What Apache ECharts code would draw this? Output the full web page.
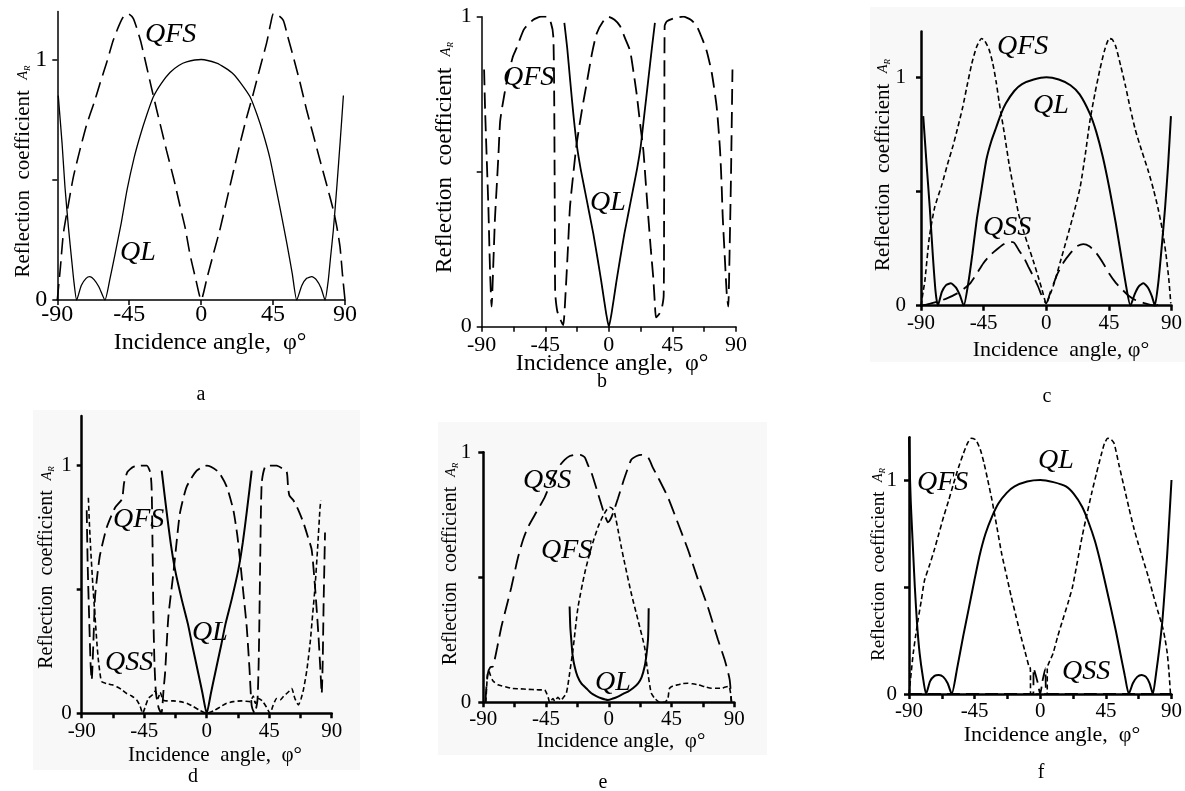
<!DOCTYPE html>
<html>
<head>
<meta charset="utf-8">
<title>Reflection coefficient vs incidence angle</title>
<style>html,body{margin:0;background:#fff}#main{width:1185px;height:791px}</style>
</head>
<body>
<div id="main"></div>
<script src="https://cdn.jsdelivr.net/npm/echarts@6/dist/echarts.min.js"></script>
<script>
// tick labels
var xLabels = [-90, -45, 0, 45, 90];
var yLabels = [0, 1];
var yTicks = [0, 0.5, 1];

// panel a
var aQL = [[-89.4,0.85],[-87,0.65],[-85.2,0.47],[-83,0.3],[-81,0.166],[-79.5,0.07],[-77.9,0],[-75,0.06],[-72,0.09],[-69.6,0.097],[-67,0.085],[-64,0.055],[-60.2,0],[-57,0.09],[-53.9,0.19],[-50,0.32],[-46.3,0.46],[-42,0.59],[-38.3,0.68],[-34,0.77],[-29.9,0.845],[-25,0.9],[-19.5,0.946],[-14,0.975],[-9.1,0.99],[0,1],[9.7,0.985],[15,0.965],[20.1,0.94],[25,0.9],[30.6,0.845],[35,0.77],[38.9,0.69],[43,0.59],[46.7,0.47],[50,0.36],[53.5,0.24],[57,0.11],[59.8,0],[63,0.06],[66,0.09],[69.2,0.097],[72,0.085],[75,0.05],[77.5,0],[79.5,0.08],[81,0.18],[82.7,0.29],[85,0.48],[87,0.66],[89,0.85]];
var aQFS = [[-90,0],[-88,0.14],[-86.2,0.277],[-83,0.4],[-80,0.51],[-76,0.62],[-71.6,0.73],[-67,0.82],[-63.3,0.9],[-59,0.99],[-55,1.08],[-51.5,1.14],[-48.7,1.177],[-45.6,1.19],[-42.4,1.17],[-38,1.08],[-34.1,0.97],[-31,0.88],[-27.8,0.79],[-24.5,0.7],[-21.6,0.62],[-17,0.5],[-13.2,0.39],[-10,0.3],[-7,0.19],[-3.5,0.09],[0,0],[3.8,0.095],[7.6,0.19],[12,0.3],[16,0.415],[20,0.53],[24.3,0.65],[28.5,0.76],[32.7,0.86],[37,0.97],[41,1.07],[43.5,1.15],[45.2,1.19],[48,1.185],[51.4,1.163],[54,1.1],[57.7,1.01],[62,0.9],[66,0.79],[70,0.69],[74.4,0.58],[78.5,0.48],[82.7,0.374],[85,0.3],[86.9,0.22],[88.5,0.1],[90,0]];

// panel b
var bQL = [[-31.5,0.98],[-29.5,0.9],[-27.5,0.8],[-25,0.68],[-22.5,0.58],[-20,0.51],[-17,0.44],[-14,0.37],[-11,0.3],[-8,0.22],[-5.5,0.15],[-3.5,0.09],[-1.8,0.04],[0,0],[1.8,0.04],[3.5,0.09],[5.5,0.15],[8,0.22],[11,0.3],[14,0.37],[17,0.44],[20,0.51],[22.5,0.58],[25,0.68],[28,0.8],[30.5,0.9],[32.6,0.98]];
var bQFS = [[-88.3,0.83],[-87.6,0.7],[-86.5,0.55],[-85.3,0.39],[-84.1,0.18],[-83,0.065],[-81.8,0.2],[-80.6,0.35],[-79.4,0.45],[-78.2,0.55],[-77,0.66],[-75.8,0.7],[-72.3,0.79],[-68,0.87],[-65.2,0.9],[-60,0.96],[-53.5,0.99],[-48,1],[-44,1],[-41,0.98],[-39.3,0.935],[-38.7,0.75],[-38.4,0.5],[-38.2,0.3],[-38,0.11],[-36.5,0.05],[-34,0.02],[-32.3,0.005],[-30.5,0.12],[-29,0.25],[-27.5,0.387],[-25,0.5],[-22.8,0.59],[-19,0.7],[-15.7,0.785],[-12,0.88],[-8.6,0.946],[-4,0.985],[-0.4,1],[4,0.99],[7.9,0.97],[11.5,0.93],[15,0.89],[17.5,0.82],[19.7,0.75],[22,0.66],[24.4,0.57],[26.2,0.46],[27.9,0.355],[29.7,0.25],[31.4,0.16],[32.5,0.08],[33.4,0.03],[35.5,0.04],[37.5,0.06],[38.8,0.1],[39.1,0.35],[39.3,0.7],[39.5,0.97],[41,0.985],[46,0.995],[52.7,1],[58,0.99],[62.2,0.97],[66,0.93],[69.2,0.89],[72.8,0.82],[76.3,0.71],[78.7,0.57],[79.8,0.46],[80.6,0.355],[82,0.23],[83.4,0.11],[84.5,0.065],[85.5,0.25],[86.5,0.5],[87.5,0.83]];

// panel c
var cQL = [[-88.4,0.83],[-86,0.62],[-83.7,0.43],[-81.5,0.22],[-79.5,0.06],[-77.9,0],[-75,0.06],[-72,0.09],[-68.6,0.098],[-65,0.08],[-62,0.045],[-59.3,0],[-56,0.1],[-53,0.23],[-50,0.375],[-46.5,0.51],[-43,0.64],[-39.5,0.72],[-36,0.78],[-32.5,0.84],[-29,0.886],[-23,0.94],[-17.4,0.97],[-9,0.99],[0,1],[9,0.99],[17.4,0.965],[24,0.925],[31.4,0.84],[36,0.76],[40.7,0.65],[45.5,0.51],[50,0.36],[53.5,0.23],[57,0.1],[60.5,0],[63.5,0.05],[66.5,0.085],[69.8,0.098],[73,0.08],[76,0.04],[78,0],[80.5,0.1],[83,0.26],[85.4,0.43],[87.6,0.62],[89.6,0.83]];
var cQFS = [[-90,0],[-88.5,0.06],[-87.2,0.11],[-84,0.3],[-80.2,0.43],[-75,0.53],[-70.9,0.62],[-67,0.7],[-64,0.77],[-60,0.87],[-57,0.96],[-53.5,1.06],[-50,1.134],[-46.5,1.17],[-44.2,1.16],[-41,1.12],[-38.4,1.06],[-36,0.98],[-33.7,0.886],[-30,0.75],[-26.7,0.62],[-23,0.5],[-19.8,0.4],[-16,0.32],[-12.8,0.26],[-9,0.19],[-5.8,0.127],[-3,0.07],[0,0.01],[2.8,0.05],[5.8,0.1],[10,0.19],[15.1,0.3],[20,0.41],[24.4,0.52],[28,0.66],[31.4,0.81],[35,0.93],[38.4,1.03],[42,1.12],[45.3,1.17],[47.5,1.165],[50,1.134],[53.5,1.05],[57,0.96],[60.5,0.86],[64,0.77],[68.5,0.68],[73.3,0.59],[77,0.51],[80.2,0.43],[83.5,0.33],[86,0.226],[88,0.12],[89.5,0.01]];
var cQSS = [[-90,0],[-84,0.008],[-77.9,0.018],[-71,0.033],[-64,0.054],[-59,0.075],[-54.7,0.098],[-50,0.14],[-45.3,0.185],[-40.5,0.22],[-36,0.244],[-31,0.268],[-26.7,0.28],[-23,0.275],[-19.8,0.244],[-16,0.21],[-12.8,0.17],[-9,0.125],[-5.8,0.083],[-3,0.04],[0,0.01],[3,0.06],[5.5,0.1],[8.1,0.14],[12.5,0.19],[17.4,0.23],[22,0.26],[26.7,0.27],[31,0.26],[36,0.23],[41,0.185],[45.3,0.14],[50,0.1],[54.7,0.07],[59,0.045],[64,0.025],[71,0.01],[78,0],[81,0.005]];

// panel d
var dQL = [[-32.4,0.98],[-29,0.82],[-26,0.69],[-22.8,0.58],[-18,0.46],[-13.5,0.36],[-10.6,0.28],[-6,0.16],[-3,0.08],[0,0],[3,0.08],[6,0.16],[10.6,0.28],[13.5,0.36],[18,0.46],[22.8,0.58],[26,0.69],[29,0.82],[32.4,0.98]];
var dQFS = [[-86.4,0.82],[-85.7,0.6],[-84.6,0.38],[-83.6,0.2],[-82.8,0.135],[-81.5,0.3],[-80.4,0.47],[-78.5,0.57],[-76.8,0.64],[-72,0.75],[-66,0.83],[-61,0.865],[-59.5,0.93],[-57,0.975],[-52.8,0.995],[-47,1],[-43.2,1],[-40.5,0.97],[-39.6,0.9],[-39,0.68],[-38.4,0.4],[-37.6,0.2],[-36.5,0.08],[-34.5,0.02],[-32.6,0],[-31,0.1],[-30,0.16],[-27.6,0.39],[-24,0.565],[-21.5,0.7],[-19.2,0.81],[-14.4,0.915],[-7.2,0.98],[0,1],[8.4,0.975],[14.4,0.915],[19.2,0.82],[22,0.72],[24,0.62],[26.5,0.48],[28.8,0.35],[30.8,0.18],[32.4,0.03],[34.5,0],[36.5,0.05],[37.4,0.2],[38,0.4],[38.6,0.65],[39.6,0.93],[42,0.995],[46,1],[50.4,1],[54,0.99],[57.6,0.975],[58.5,0.92],[59.5,0.88],[62.4,0.86],[66,0.82],[69.6,0.77],[73,0.71],[75.6,0.66],[78,0.51],[80.4,0.32],[82,0.16],[82.8,0.08],[83.5,0.2],[84.2,0.45],[85.2,0.73]];
var dQSS = [[-85.2,0.87],[-84.4,0.76],[-83.5,0.66],[-82,0.52],[-80.4,0.39],[-79,0.28],[-78,0.215],[-76.8,0.16],[-75.6,0.128],[-72,0.12],[-68,0.115],[-64.8,0.107],[-61,0.095],[-57.6,0.08],[-54,0.07],[-50.4,0.054],[-48,0.03],[-46.1,0],[-44,0.03],[-42,0.06],[-39,0.075],[-37,0.09],[-35,0.06],[-33.5,0.085],[-31.5,0.055],[-28.8,0.05],[-24,0.05],[-19.2,0.047],[-14,0.04],[-9.6,0.027],[-5,0.012],[0,0],[5,0.01],[9.6,0.025],[14,0.04],[19.1,0.047],[25,0.05],[31.2,0.047],[33.5,0.07],[35,0.04],[37,0.06],[40,0.05],[43,0.025],[45.6,0],[48,0.035],[50.4,0.06],[53,0.055],[55.5,0.07],[57.6,0.08],[59.5,0.09],[61.2,0.1],[63.5,0.06],[66,0.034],[68,0.06],[69.6,0.094],[72,0.17],[74.4,0.28],[76.3,0.4],[78,0.51],[80,0.68],[81.6,0.83],[82.2,0.86]];

// panel e
var eQL = [[-28.1,0.383],[-27.6,0.3],[-26.9,0.25],[-26,0.19],[-24.5,0.143],[-22.5,0.105],[-19.7,0.076],[-16,0.055],[-12.5,0.036],[-9,0.025],[-5.4,0.016],[-2.5,0.011],[-0.6,0.009],[2.5,0.014],[6.6,0.023],[10,0.033],[13.8,0.043],[17.5,0.057],[21,0.076],[23.5,0.1],[25.7,0.143],[27,0.19],[28.1,0.25],[28.4,0.3],[28.6,0.376]];
var eQFS = [[-88.2,0],[-87.6,0.06],[-87,0.11],[-86,0.125],[-85,0.11],[-83,0.085],[-79.5,0.07],[-74,0.062],[-69.9,0.056],[-64,0.054],[-58,0.052],[-52,0.05],[-46,0.049],[-44.5,0.035],[-43.6,0.023],[-42.4,0],[-40,0.015],[-38.8,0.005],[-36.5,0.02],[-34.5,0.008],[-32.5,0.02],[-30.5,0.036],[-29.3,0.07],[-28.1,0.116],[-25.7,0.21],[-22.1,0.38],[-17.3,0.516],[-12.5,0.62],[-7.8,0.7],[-4.2,0.745],[-1.5,0.77],[0.6,0.78],[2.5,0.775],[4.2,0.756],[6.6,0.69],[9,0.62],[11.4,0.556],[16.1,0.436],[20.9,0.33],[25.7,0.22],[27,0.16],[28.1,0.116],[29.3,0.07],[30.5,0.036],[32.9,0.016],[36.5,0],[40,0],[42.4,0.016],[43,0.04],[43.6,0.056],[46,0.065],[49.6,0.07],[53,0.075],[56.8,0.076],[60,0.074],[64,0.07],[69,0.062],[73.5,0.056],[77,0.056],[80.7,0.056],[83,0.06],[85.5,0.063],[86.5,0.06],[87.5,0.03],[88,0]];
var eQSS = [[-88.5,0],[-87.8,0.06],[-86.7,0.116],[-85,0.14],[-83.1,0.143],[-80,0.22],[-77.1,0.3],[-73.5,0.38],[-69.9,0.46],[-65.1,0.58],[-61.5,0.65],[-58,0.7],[-52,0.76],[-46,0.82],[-40,0.9],[-35.5,0.945],[-31.7,0.97],[-28,0.985],[-24.5,0.99],[-20.5,0.99],[-17.3,0.98],[-15,0.95],[-12.5,0.92],[-7.8,0.836],[-4.2,0.77],[-2,0.735],[-0.6,0.72],[1,0.73],[3,0.756],[6.6,0.816],[11.4,0.9],[16.1,0.97],[20,0.985],[23.3,0.99],[28.1,0.98],[31.5,0.94],[35.3,0.9],[42.4,0.82],[49.6,0.716],[56.8,0.61],[64,0.49],[71.1,0.38],[78.3,0.25],[83.1,0.17],[86.7,0.09],[87.9,0]];

// panel f
var fQL = [[-90,1.2],[-89.5,1.05],[-88.8,0.9],[-88.2,0.81],[-87,0.64],[-86,0.5],[-84.5,0.33],[-82.7,0.19],[-80.5,0.08],[-78.3,0],[-75.5,0.06],[-72.5,0.085],[-69.5,0.089],[-66.5,0.08],[-63.5,0.05],[-60.7,0],[-57,0.12],[-52.9,0.268],[-49,0.4],[-45.2,0.53],[-41.5,0.65],[-37.5,0.75],[-33,0.83],[-28.7,0.89],[-23,0.94],[-17.6,0.97],[-9,0.993],[0,1],[9,0.99],[17.6,0.97],[23,0.935],[28.7,0.875],[33,0.805],[37.5,0.715],[41.5,0.61],[45.2,0.5],[48.5,0.4],[52,0.29],[55.2,0.18],[58,0.085],[60.7,0],[63.5,0.05],[66.5,0.08],[69.5,0.089],[72.5,0.08],[75,0.05],[77.2,0],[79.5,0.1],[81.8,0.22],[83.8,0.346],[85.5,0.5],[87.1,0.657],[88.5,0.82],[90,1]];
var fQFS = [[-90,0],[-88.5,0.1],[-87.1,0.19],[-85.5,0.27],[-83.8,0.346],[-81.5,0.44],[-79.4,0.53],[-76,0.6],[-72.8,0.67],[-69.5,0.75],[-66.2,0.83],[-63,0.9],[-59.6,0.98],[-56,1.06],[-52.9,1.12],[-50,1.17],[-47.4,1.195],[-44.1,1.187],[-41,1.14],[-38.6,1.08],[-36,1],[-33.1,0.906],[-30,0.79],[-26.5,0.657],[-23,0.55],[-19.9,0.455],[-16.5,0.36],[-13.2,0.268],[-10.5,0.2],[-7.7,0.128],[-6.8,0.12],[-6.6,0],[4.8,0],[4.8,0.12],[8.8,0.19],[12,0.27],[15.4,0.346],[18.8,0.42],[22.1,0.5],[25.5,0.62],[28.7,0.735],[32,0.84],[35.3,0.94],[38.5,1.03],[41.9,1.12],[44,1.17],[46.3,1.195],[48.5,1.19],[50.7,1.17],[54,1.07],[57.4,0.97],[60.8,0.87],[64,0.78],[67.3,0.7],[70.6,0.626],[74,0.55],[77.2,0.47],[80.5,0.39],[83.8,0.315],[85.5,0.26],[87.1,0.19],[88.3,0.1],[89.3,0]];
var fQSS = [[-90,0],[-4.8,0],[-4.5,0.12],[-2,0.06],[0,0],[1.5,0.06],[3.5,0.12],[4.2,0],[90,0]];

var LONG = [16, 7];
var MID = [13, 6];
var SHORT = [5, 3];
var FONT = '"Liberation Serif", "Times New Roman", serif';

var panels = [
  {grid: {left: 57.3, top: 11.4, width: 287.7, height: 288.6}, ymax: 1.2, step: 45, axisW: 1.5, tickFs: 24, xMargin: 3, yMargin: 10,
   lines: [[aQL, 'solid', 1.3], [aQFS, LONG, 1.6]],
   labels: [['QFS', 145, 34.5], ['QL', 120, 253]],
   xTitle: ['Incidence angle,  φ°', 210, 343, 24], yTitle: [23, 171.5, 21], cap: ['a', 201, 395]},
  {grid: {left: 481.7, top: 16.7, width: 254.3, height: 310}, ymax: 1, step: 22.5, axisW: 1.5, tickFs: 22, xMargin: 8, yMargin: 10,
   lines: [[bQL, 'solid', 1.8], [bQFS, LONG, 1.8]],
   labels: [['QFS', 503, 78], ['QL', 590, 203]],
   xTitle: ['Incidence angle,  φ°', 612, 364, 24], yTitle: [445, 157.5, 23], cap: ['b', 602, 382]},
  {grid: {left: 921, top: 31.6, width: 258, height: 274.1}, ymax: 1.2, step: 45, axisW: 2.5, tickFs: 21, xMargin: 7, yMargin: 15,
   lines: [[cQL, 'solid', 2], [cQFS, SHORT, 1.6], [cQSS, LONG, 1.8]],
   labels: [['QFS', 997, 46.5], ['QL', 1033, 106], ['QSS', 983, 228]],
   xTitle: ['Incidence  angle, φ°', 1061, 350, 22], yTitle: [883, 165, 21], cap: ['c', 1047, 397],
   bg: [870, 7, 315, 355]},
  {grid: {left: 81.7, top: 416.1, width: 250, height: 297.2}, ymax: 1.2, step: 22.5, axisW: 2.5, tickFs: 21, xMargin: 8, yMargin: 10,
   lines: [[dQL, 'solid', 2], [dQFS, MID, 1.8], [dQSS, SHORT, 1.6]],
   labels: [['QFS', 113, 519.5], ['QL', 192, 633], ['QSS', 105, 663]],
   xTitle: ['Incidence  angle,  φ°', 215, 755, 21], yTitle: [47, 567.5, 20], cap: ['d', 193, 777],
   bg: [33, 410, 327, 360]},
  {grid: {left: 483.3, top: 452.3, width: 251, height: 250}, ymax: 1, step: 22.5, axisW: 2.5, tickFs: 21, xMargin: 7, yMargin: 12,
   lines: [[eQL, 'solid', 2], [eQFS, SHORT, 1.6], [eQSS, LONG, 1.8]],
   labels: [['QSS', 523, 481], ['QFS', 541, 551], ['QL', 595, 683]],
   xTitle: ['Incidence angle,  φ°', 621, 741, 21], yTitle: [451, 564, 20], cap: ['e', 603, 783],
   bg: [438, 422, 329, 333]},
  {grid: {left: 909, top: 437.2, width: 272, height: 256.8}, ymax: 1.2, step: 22.5, axisW: 2.5, tickFs: 21, xMargin: 7, yMargin: 12,
   lines: [[fQL, 'solid', 2], [fQFS, SHORT, 1.6], [fQSS, MID, 1.8]],
   labels: [['QFS', 917, 483], ['QL', 1038, 461], ['QSS', 1062, 672]],
   xTitle: ['Incidence angle,  φ°', 1052, 735, 22], yTitle: [879, 564.5, 19], cap: ['f', 1041, 773]}
];

var grids = [], xAxes = [], yAxes = [], series = [], graphics = [];

panels.forEach(function (p, i) {
  grids.push(p.grid);
  xAxes.push({
    gridIndex: i, type: 'value', min: -90, max: 90, interval: p.step,
    axisLine: {onZero: false, lineStyle: {color: '#000', width: p.axisW}},
    axisTick: {length: 5, lineStyle: {color: '#000', width: p.axisW}},
    splitLine: {show: false},
    axisLabel: {customValues: xLabels, color: '#000', fontFamily: FONT, fontSize: p.tickFs, margin: p.xMargin}
  });
  yAxes.push({
    gridIndex: i, type: 'value', min: 0, max: p.ymax,
    axisLine: {show: true, onZero: false, lineStyle: {color: '#000', width: p.axisW}},
    axisTick: {show: true, customValues: yTicks, length: 5, lineStyle: {color: '#000', width: p.axisW}},
    splitLine: {show: false},
    axisLabel: {customValues: yLabels, color: '#000', fontFamily: FONT, fontSize: p.tickFs, margin: p.yMargin}
  });
  p.lines.forEach(function (l) {
    series.push({
      type: 'line', xAxisIndex: i, yAxisIndex: i, data: l[0],
      symbol: 'none', smooth: 0.2, silent: true, animation: false,
      lineStyle: {color: '#000', width: l[2], type: l[1]}
    });
  });
  if (p.bg) {
    graphics.push({type: 'rect', z: -10, silent: true,
      shape: {x: p.bg[0], y: p.bg[1], width: p.bg[2], height: p.bg[3]},
      style: {fill: '#f8f8f8'}});
  }
  p.labels.forEach(function (t) {
    graphics.push({type: 'text', x: t[1], y: t[2], silent: true,
      style: {text: t[0], fill: '#000', font: 'italic 28px ' + FONT,
        align: 'left', verticalAlign: 'middle', textAlign: 'left', textVerticalAlign: 'middle'}});
  });
  graphics.push({type: 'text', x: p.xTitle[1], y: p.xTitle[2], silent: true,
    style: {text: p.xTitle[0], fill: '#000', font: p.xTitle[3] + 'px ' + FONT,
      align: 'center', verticalAlign: 'middle', textAlign: 'center', textVerticalAlign: 'middle'}});
  var fs = p.yTitle[2];
  graphics.push({type: 'text', x: p.yTitle[0], y: p.yTitle[1], rotation: Math.PI / 2, silent: true,
    style: {text: '{m|Reflection  coefficient  }{a|A}{s|R}', fill: '#000', font: fs + 'px ' + FONT,
      align: 'center', verticalAlign: 'middle', textAlign: 'center', textVerticalAlign: 'middle',
      rich: {
        m: {fontFamily: FONT, fontSize: fs, color: '#000', verticalAlign: 'bottom'},
        a: {fontFamily: FONT, fontSize: 14, fontStyle: 'italic', color: '#000', verticalAlign: 'bottom', padding: [0, 0, 3, 0]},
        s: {fontFamily: FONT, fontSize: 9, fontStyle: 'italic', color: '#000', verticalAlign: 'bottom', padding: [0, 0, 1, 0]}
      }}});
  graphics.push({type: 'text', x: p.cap[1], y: p.cap[2], silent: true,
    style: {text: p.cap[0], fill: '#000', font: '20px ' + FONT,
      align: 'center', verticalAlign: 'middle', textAlign: 'center', textVerticalAlign: 'middle'}});
});

var myChart = echarts.init(document.getElementById('main'));
myChart.setOption({
  backgroundColor: '#fff',
  animation: false,
  grid: grids,
  xAxis: xAxes,
  yAxis: yAxes,
  series: series,
  graphic: graphics
});
</script>
</body>
</html>
